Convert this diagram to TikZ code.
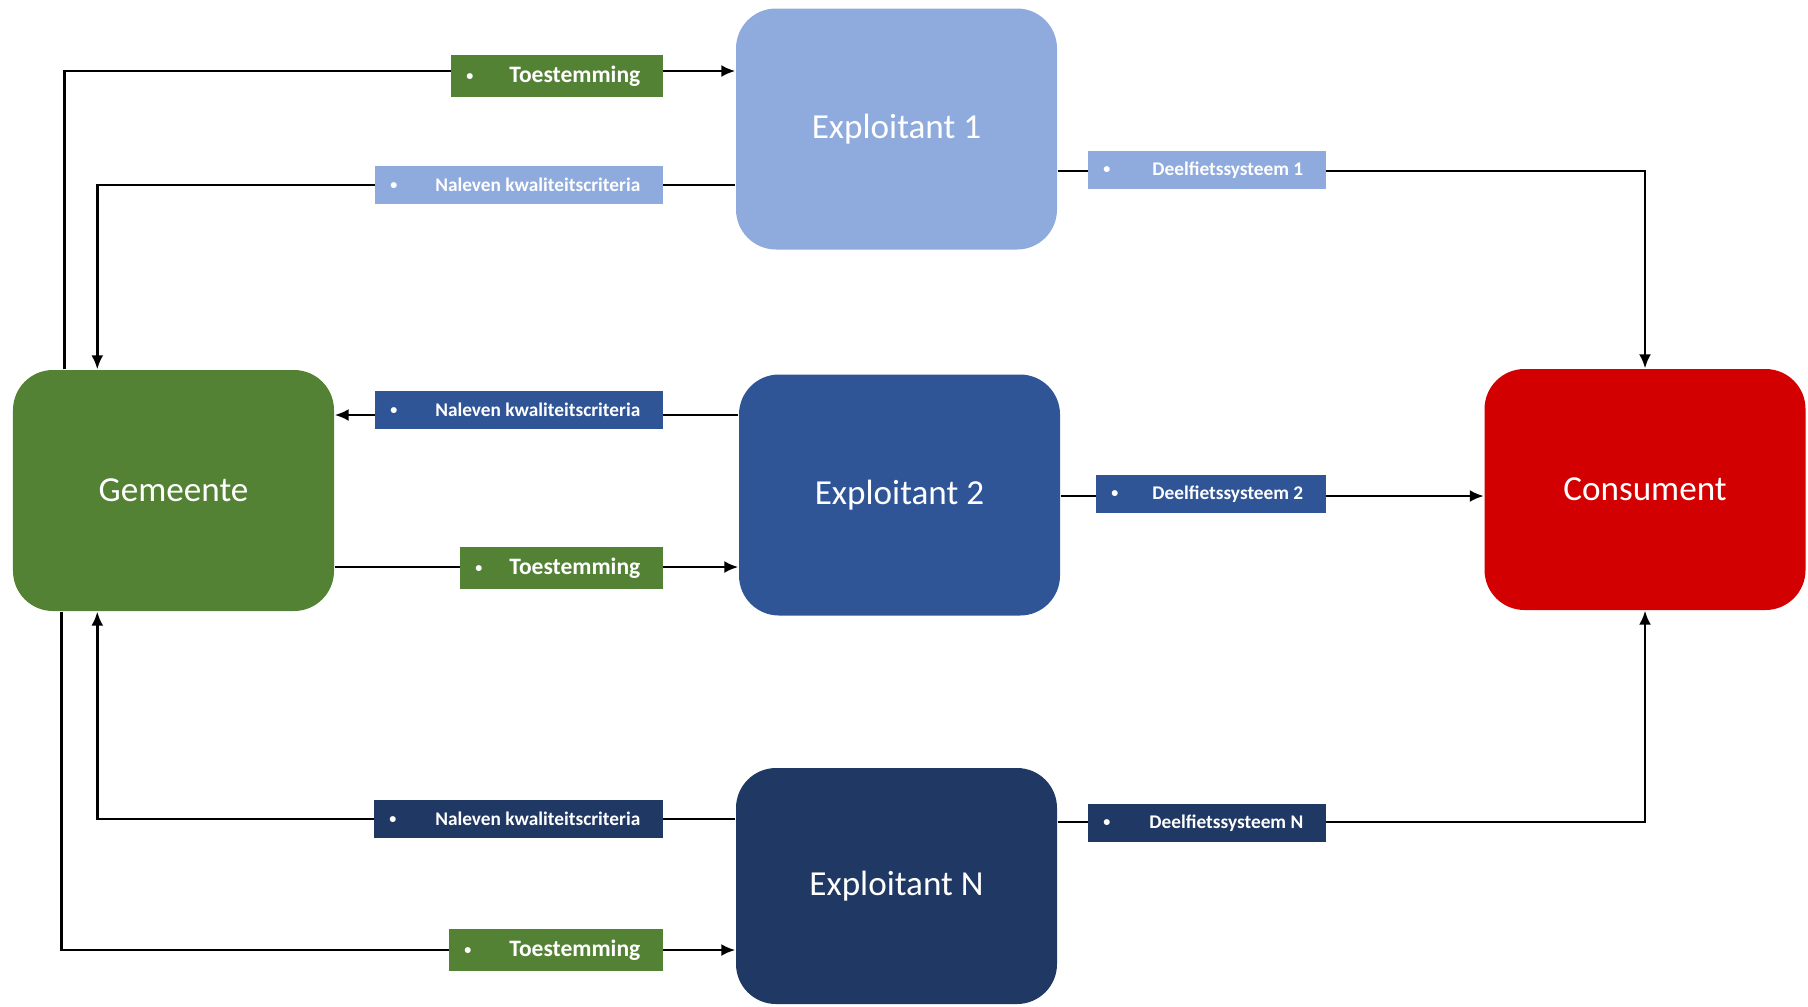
\documentclass[tikz,border=0pt]{standalone}
\usepackage{fontspec}
\setmainfont{Carlito}
\usetikzlibrary{arrows.meta, positioning}

\definecolor{gemgreen}{HTML}{548235}
\definecolor{lightblue}{HTML}{8FAADC}
\definecolor{midblue}{HTML}{2F5597}
\definecolor{darkblue}{HTML}{203864}
\definecolor{conred}{HTML}{D20000}
\newcommand{\lbl}[2]{\hbox to #1{\hskip0.15cm\raisebox{0.5pt}{\fontsize{4}{4}\selectfont\textbullet}\hfil #2\hskip0.23cm}}

\begin{document}
\begin{tikzpicture}[
  actor/.style={rounded corners=0.4cm, minimum width=3.21cm, minimum height=2.41cm,
    inner sep=0pt, text=white, font=\fontsize{10}{12}\selectfont},
  tag/.style={anchor=east, inner sep=0pt, minimum height=0.38cm, text=white,
    font=\bfseries\fontsize{5.5}{6}\selectfont},
  bigtag/.style={tag, fill=gemgreen, minimum height=0.42cm,
    font=\bfseries\fontsize{6.7}{8}\selectfont},
  conn/.style={line width=0.7pt, -{Latex[length=1.4mm,width=1.2mm]}}
]
\useasboundingbox (0,0) rectangle (18.08,10.06);

\node[actor, fill=gemgreen] (gem) at (1.735,5.155) {Gemeente};
\node[actor, fill=lightblue] (exp1) at (8.965,8.77) {Exploitant 1};
\node[actor, fill=midblue] (exp2) at (8.995,5.11) {Exploitant 2};
\node[actor, fill=darkblue, minimum height=2.36cm] (expN) at (8.965,1.20) {Exploitant N};
\node[actor, fill=conred] (con) at (16.45,5.165) {Consument};

% gemeente <-> exploitanten
\draw[conn] (gem.north west) ++(0.52,0) |- (exp1.west |- 0,9.35);
\draw[conn] (exp1.west |- 0,8.21) -| ([xshift=0.85cm]gem.north west);
\draw[conn] (exp2.west |- 0,5.91) -- (gem.east |- 0,5.91);
\draw[conn] (gem.east |- 0,4.39) -- (exp2.west |- 0,4.39);
\draw[conn] (expN.west |- 0,1.87) -| ([xshift=0.85cm]gem.south west);
\draw[conn] (gem.south west) ++(0.49,0) |- (expN.west |- 0,0.56);

% exploitanten -> consument
\draw[conn] (exp1.east |- 0,8.35) -| (con.north);
\draw[conn] (exp2.east |- 0,5.10) -- (con.west |- 0,5.10);
\draw[conn] (expN.east |- 0,1.84) -| (con.south);

\node[bigtag] (toe1) at (6.64,9.30) {\lbl{2.12cm}{Toestemming}};
\node[tag, fill=lightblue] (nal1) at (6.64,8.21) {\lbl{2.88cm}{Naleven kwaliteitscriteria}};
\node[tag, fill=midblue] (nal2) at (6.64,5.96) {\lbl{2.88cm}{Naleven kwaliteitscriteria}};
\node[bigtag] (toe2) at (6.64,4.38) {\lbl{2.03cm}{Toestemming}};
\node[tag, fill=darkblue] (nalN) at (6.64,1.87) {\lbl{2.89cm}{Naleven kwaliteitscriteria}};
\node[bigtag] (toeN) at (6.64,0.56) {\lbl{2.14cm}{Toestemming}};

\node[tag, fill=lightblue] (dfs1) at (13.27,8.36) {\lbl{2.38cm}{Deelfietssysteem 1}};
\node[tag, fill=midblue] (dfs2) at (13.27,5.12) {\lbl{2.30cm}{Deelfietssysteem 2}};
\node[tag, fill=darkblue] (dfsN) at (13.27,1.83) {\lbl{2.38cm}{Deelfietssysteem N}};
\end{tikzpicture}
\end{document}
